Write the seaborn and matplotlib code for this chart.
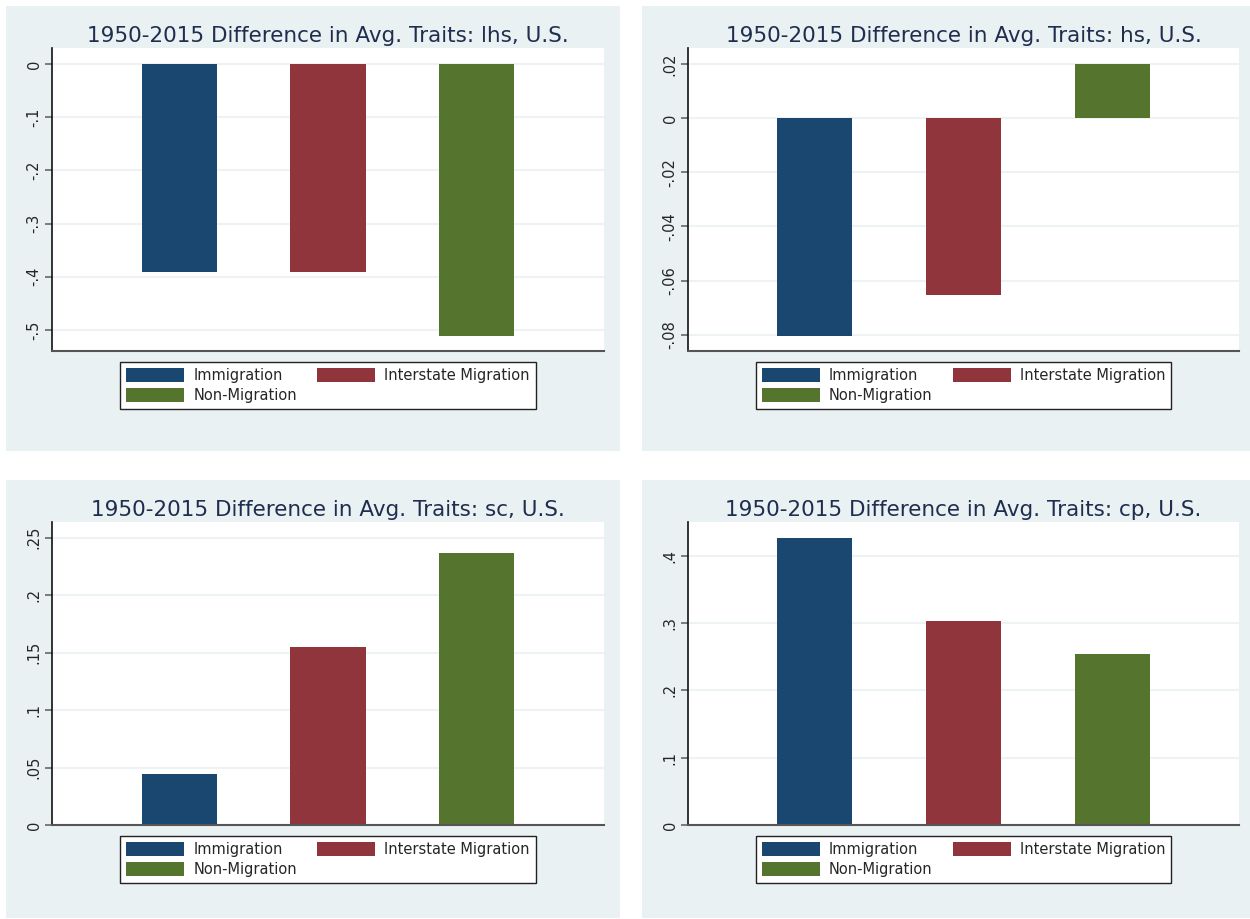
import matplotlib
matplotlib.use("Agg")
import matplotlib.pyplot as plt
from matplotlib.patches import Rectangle
from matplotlib.ticker import FuncFormatter
import seaborn as sns
import pandas as pd

# %%--  Data
categories = ["Immigration", "Interstate Migration", "Non-Migration"]
lhs_vals = [-0.3915, -0.3915, -0.512]
hs_vals = [-0.0806, -0.0654, 0.0201]
sc_vals = [0.0448, 0.1548, 0.2367]
cp_vals = [0.4257, 0.3024, 0.2538]

lhs_ticks = [0, -0.1, -0.2, -0.3, -0.4, -0.5]
hs_ticks = [0.02, 0, -0.02, -0.04, -0.06, -0.08]
sc_ticks = [0, 0.05, 0.1, 0.15, 0.2, 0.25]
cp_ticks = [0, 0.1, 0.2, 0.3, 0.4]
# %%-

# %%--  Style
sns.set_theme(style="white")
plt.rcParams['font.family'] = ['DejaVu Sans']
colors = ["#1A476F", "#90353B", "#55752F"]
BG = "#EAF1F3"
TITLE_COL = "#1F2E4F"

def stata_fmt(v, pos):
    s = f"{round(v, 6):g}"
    return s.replace("0.", ".")

panels = [
    # trait, values, ticks, ylim, axes rect, background rect (px from top-left)
    ("lhs", lhs_vals, lhs_ticks, (-0.5395, 0.030), (52, 48, 604, 351), (6, 6, 620, 451)),
    ("hs", hs_vals, hs_ticks, (-0.0860, 0.0259), (688, 48, 1239, 351), (642, 6, 1250, 451)),
    ("sc", sc_vals, sc_ticks, (0, 0.2637), (52, 522, 604, 825), (6, 480, 620, 918)),
    ("cp", cp_vals, cp_ticks, (0, 0.450), (688, 522, 1239, 825), (642, 480, 1250, 918)),
]
# %%-

# %%--  Plot
W, H = 1250, 919
fig = plt.figure(figsize=(W / 100, H / 100), dpi=100)
fig.patch.set_facecolor("white")

for trait, vals, ticks, ylim, arect, brect in panels:
    # panel background
    x0, y0, x1, y1 = brect
    fig.add_artist(Rectangle((x0 / W, 1 - y1 / H), (x1 - x0) / W, (y1 - y0) / H,
                             transform=fig.transFigure, facecolor=BG,
                             edgecolor="none", zorder=-5))
    x0, y0, x1, y1 = arect
    ax = fig.add_axes([x0 / W, 1 - y1 / H, (x1 - x0) / W, (y1 - y0) / H])
    ax.set_facecolor("white")

    df = pd.DataFrame({"group": categories, "value": vals})
    sns.barplot(data=df, x="group", y="value", hue="group", hue_order=categories,
                order=categories, palette=colors, width=0.505, linewidth=0,
                saturation=1, legend=True, ax=ax)

    ax.set_xlim(-0.854, 2.854)
    ax.set_ylim(*ylim)
    ax.set_yticks(ticks)
    ax.yaxis.set_major_formatter(FuncFormatter(stata_fmt))
    ax.grid(axis="y", color="#EDF3F4", linewidth=1.5, zorder=0)
    ax.set_axisbelow(True)
    ax.set_xticks([])
    ax.set_xlabel("")
    ax.set_ylabel("")
    for side in ["top", "right"]:
        ax.spines[side].set_visible(False)
    ax.spines["left"].set_color("#111111")
    ax.spines["left"].set_linewidth(1.2)
    ax.spines["bottom"].set_color("#555555")
    ax.spines["bottom"].set_linewidth(1.5)
    ax.tick_params(axis="y", direction="out", length=5, width=1.2, color="#666666",
                   labelsize=10.5, pad=2.5, left=True)
    for lab in ax.get_yticklabels():
        lab.set_rotation(90)
        lab.set_va("center")
    ax.set_title(f"1950-2015 Difference in Avg. Traits: {trait}, U.S.",
                 fontsize=15.5, color=TITLE_COL, pad=4)

    # row-wise legend order (matplotlib fills columns first)
    old = ax.get_legend()
    handles = old.legend_handles
    labels = [t.get_text() for t in old.get_texts()]
    old.remove()
    order = [0, 2, 1]
    leg = ax.legend([handles[i] for i in order], [labels[i] for i in order],
                    loc="upper center", bbox_to_anchor=(0.5, -0.036),
                    borderaxespad=0, ncol=2, fontsize=10.5, frameon=True,
                    fancybox=False, edgecolor="#222222", framealpha=1,
                    handlelength=3.98, handleheight=1.1, handletextpad=0.62,
                    columnspacing=1.37, labelspacing=0.34, borderpad=0.42)
    leg.get_frame().set_linewidth(1.0)

plt.savefig("out.png", dpi=100)
# %%-
